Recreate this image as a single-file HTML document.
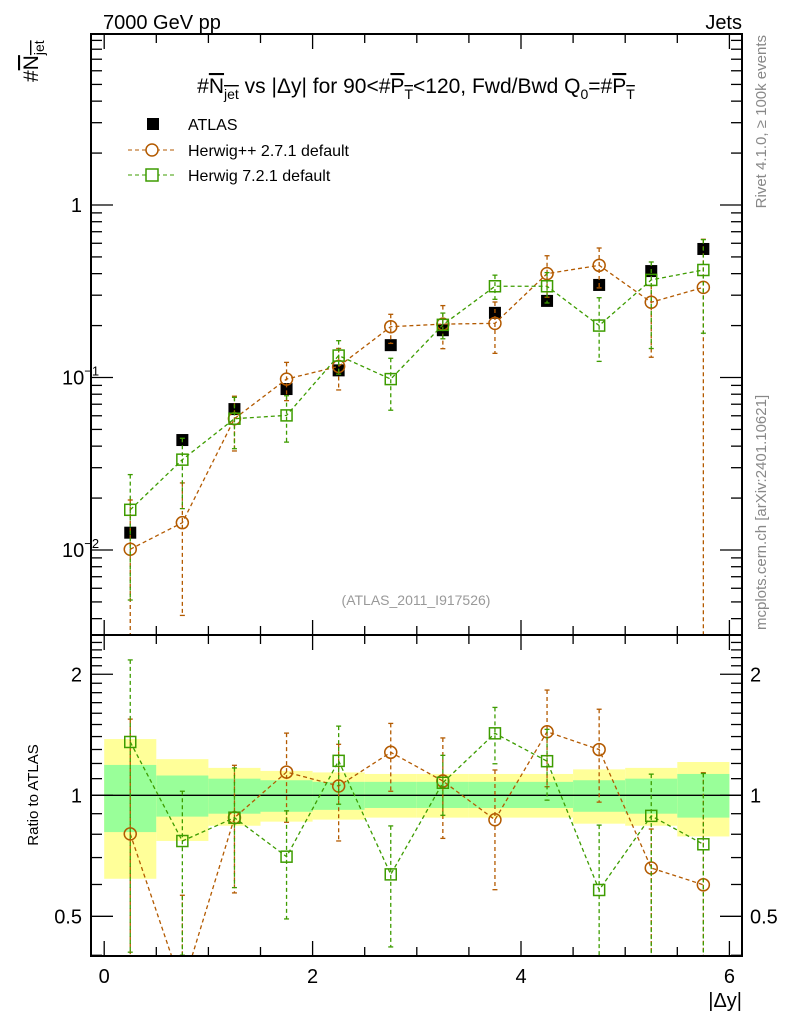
<!DOCTYPE html>
<html><head><meta charset="utf-8"><style>
html,body{margin:0;padding:0;background:#fff;overflow:hidden;width:786px;height:1024px;}
svg{display:block;font-family:"Liberation Sans",sans-serif;}
</style></head><body>
<svg id="c" width="786" height="1024" viewBox="0 0 786 1024" xmlns="http://www.w3.org/2000/svg">
<text x="103" y="29" font-size="20">7000 GeV pp</text>
<text x="742" y="29" font-size="20" text-anchor="end">Jets</text>
<text x="416" y="93" font-size="21" text-anchor="middle">#<tspan text-decoration="overline">N<tspan font-size="14" dy="6">jet</tspan></tspan><tspan dy="-6"> vs |Δy| for 90&lt;#</tspan><tspan text-decoration="overline">P<tspan font-size="14" dy="6">T</tspan></tspan><tspan dy="-6">&lt;120, Fwd/Bwd Q</tspan><tspan font-size="14" dy="6">0</tspan><tspan dy="-6">=#</tspan><tspan text-decoration="overline">P<tspan font-size="14" dy="6">T</tspan></tspan></text>
<text transform="translate(38,82) rotate(-90)" font-size="21">#<tspan text-decoration="overline">N<tspan font-size="14" dy="6">jet</tspan></tspan></text>
<text transform="translate(38,795) rotate(-90)" font-size="15" text-anchor="middle">Ratio to ATLAS</text>
<text x="742" y="1007" font-size="20" text-anchor="end">|Δy|</text>
<text transform="translate(766,35) rotate(-90)" font-size="15" fill="#888" text-anchor="end">Rivet 4.1.0, ≥ 100k events</text>
<text transform="translate(766,630) rotate(-90)" font-size="15" fill="#888">mcplots.cern.ch [arXiv:2401.10621]</text>
<text x="416" y="605" font-size="14" fill="#999" text-anchor="middle">(ATLAS_2011_I917526)</text>
<g id="legend">
<rect x="147" y="118" width="12" height="12" fill="#000"/>
<text x="188" y="130" font-size="16">ATLAS</text>
<line x1="128" y1="150" x2="174" y2="150" stroke="#b35a00" stroke-dasharray="4,3"/>
<circle cx="152" cy="150" r="6" fill="#fff" stroke="#b35a00" stroke-width="1.5"/>
<text x="188" y="156" font-size="16">Herwig++ 2.7.1 default</text>
<line x1="128" y1="175" x2="174" y2="175" stroke="#3d9c00" stroke-dasharray="4,3"/>
<rect x="146" y="169" width="12" height="12" fill="#fff" stroke="#3d9c00" stroke-width="1.5"/>
<text x="188" y="181" font-size="16">Herwig 7.2.1 default</text>
</g>
</svg>
<script>
const xCenters=[0.25,0.75,1.25,1.75,2.25,2.75,3.25,3.75,4.25,4.75,5.25,5.75];
const atlas=[0.0126,0.0434,0.0656,0.0857,0.110,0.154,0.188,0.237,0.278,0.344,0.414,0.556];
const herwigpp=[0.0101,0.0144,0.0577,0.0979,0.116,0.197,0.204,0.206,0.400,0.447,0.273,0.333];
const herwig7=[0.0171,0.0334,0.0577,0.0603,0.134,0.0979,0.202,0.338,0.338,0.200,0.368,0.420];
const hppErrUp=[0.93,0.7,0.35,0.25,0.27,0.18,0.28,0.33,0.27,0.26,0.25,0.9];
const hppErrDn=[1.0,0.71,0.35,0.25,0.27,0.2,0.28,0.33,0.27,0.26,0.52,1.0];
const h7ErrUp=[0.6,0.33,0.33,0.3,0.22,0.32,0.17,0.16,0.2,0.45,0.27,0.5];
const h7ErrDn=[0.7,0.48,0.33,0.3,0.22,0.34,0.17,0.16,0.2,0.38,0.6,0.57];
const yellowUp=[1.38,1.23,1.17,1.15,1.14,1.13,1.13,1.13,1.13,1.16,1.17,1.21];
const yellowDn=[0.62,0.77,0.84,0.86,0.87,0.88,0.88,0.88,0.88,0.85,0.84,0.79];
const greenUp=[1.19,1.12,1.10,1.09,1.08,1.08,1.08,1.08,1.08,1.09,1.10,1.13];
const greenDn=[0.81,0.885,0.90,0.91,0.92,0.93,0.93,0.93,0.93,0.91,0.90,0.88];
const xTickLabels=["0","2","4","6"];
const NS="http://www.w3.org/2000/svg";
const svg=document.getElementById('c');
const L=91,R=742,T=34,MB=635,RB=956;
const X=v=>104.2+v*104.2;
const YM=v=>205-Math.log10(v)*172.5;
const YR=v=>795.3-Math.log10(v)*402;
function mk(tag,attrs,parent){const e=document.createElementNS(NS,tag);for(const k in attrs)e.setAttribute(k,attrs[k]);(parent||svg).appendChild(e);return e;}
const gBand=mk('g',{});


xCenters.forEach((x,i)=>{
 const r1=mk('rect',{x:X(x-0.25),y:YR(yellowUp[i]),width:X(x+0.25)-X(x-0.25),height:YR(yellowDn[i])-YR(yellowUp[i]),fill:'#ffff99'},gBand);
 
 
 const r2=mk('rect',{x:X(x-0.25),y:YR(greenUp[i]),width:X(x+0.25)-X(x-0.25),height:YR(greenDn[i])-YR(greenUp[i]),fill:'#99ff99'},gBand);
 
 
});
const one=mk('line',{x1:L,x2:R,y1:YR(1),y2:YR(1),stroke:'#000','stroke-width':1.3});


const defs=mk('defs',{});
const c1=mk('clipPath',{id:'cm'},defs);mk('rect',{x:L,y:T,width:R-L,height:MB-T},c1);
const c2=mk('clipPath',{id:'cr'},defs);mk('rect',{x:L,y:MB,width:R-L,height:RB-MB},c2);
function series(vals,up,dn,col,shape,Y,clip,name,ratio){
 const g=mk('g',{'clip-path':'url(#'+clip+')'});
 
 
 const v=vals.map((d,i)=>ratio?d/atlas[i]:d);
 const pts=xCenters.map((x,i)=>X(x)+','+Y(v[i])).join(' ');
 mk('polyline',{points:pts,fill:'none',stroke:col,'stroke-width':1.3,'stroke-dasharray':'4,3'},g);
 xCenters.forEach((x,i)=>{
  const hi=v[i]*(1+up[i]), lo=Math.max(v[i]*(1-dn[i]),1e-4);
  const e=mk('line',{x1:X(x),x2:X(x),y1:Y(hi),y2:Y(lo),stroke:col,'stroke-width':1.3,'stroke-dasharray':'4,3'},g);
  
  
  mk('line',{x1:X(x)-2.5,x2:X(x)+2.5,y1:Y(hi),y2:Y(hi),stroke:col,'stroke-width':1.3},g);
  mk('line',{x1:X(x)-2.5,x2:X(x)+2.5,y1:Y(lo),y2:Y(lo),stroke:col,'stroke-width':1.3},g);
  let m;
  if(shape==='c') m=mk('circle',{cx:X(x),cy:Y(v[i]),r:6,fill:'none',stroke:col,'stroke-width':1.5},g);
  else m=mk('rect',{x:X(x)-5.5,y:Y(v[i])-5.5,width:11,height:11,fill:'none',stroke:col,'stroke-width':1.5},g);
  
  
 });
}
const ga=mk('g',{});


xCenters.forEach((x,i)=>{
 const r=mk('rect',{x:X(x)-6,y:YM(atlas[i])-6,width:12,height:12,fill:'#000'},ga);
 
 
});
series(herwigpp,hppErrUp,hppErrDn,'#b35a00','c',YM,'cm','herwigpp-series',false);
series(herwig7,h7ErrUp,h7ErrDn,'#3d9c00','s',YM,'cm','herwig7-series',false);
series(herwigpp,hppErrUp,hppErrDn,'#b35a00','c',YR,'cr','herwigpp-ratio',true);
series(herwig7,h7ErrUp,h7ErrDn,'#3d9c00','s',YR,'cr','herwig7-ratio',true);
const f1=mk('rect',{x:L,y:T,width:R-L,height:MB-T,fill:'none',stroke:'#000','stroke-width':2});


const f2=mk('rect',{x:L,y:MB,width:R-L,height:RB-MB,fill:'none',stroke:'#000','stroke-width':2});


const tk=mk('g',{stroke:'#000','stroke-width':1.3});


for(let k=0;k<=12;k++){const v=k*0.5,x=X(v),len=(k%4===0)?15:9;
 [[T,1],[MB,-1],[MB,1],[RB,-1]].forEach(([y,s])=>mk('line',{x1:x,x2:x,y1:y,y2:y+s*len},tk));}
xTickLabels.forEach((t,i)=>{const e=mk('text',{x:X(i*2),y:983,'font-size':20,'text-anchor':'middle'});e.textContent=t;
 
 });
for(let d=-3;d<=0;d++)for(let m=1;m<10;m++){const v=m*Math.pow(10,d),y=YM(v);if(y<T||y>MB)continue;
 const len=m===1?22:11;mk('line',{x1:L,x2:L+len,y1:y,y2:y},tk);mk('line',{x1:R,x2:R-len,y1:y,y2:y},tk);}
[[1,'1'],[0.1,'10'],[0.01,'10']].forEach(([v,t])=>{const e=mk('text',{x:v===1?82:62,y:YM(v)+7,'font-size':20,'text-anchor':v===1?'end':'start'});
 e.textContent=t;if(v!==1){const s=mk('tspan',{'font-size':13,dy:-9},e);s.textContent=v===0.1?'−1':'−2';}
 
 });
[0.4,0.5,0.6,0.7,0.8,0.9,1,1.1,1.2,1.3,1.4,1.5,1.6,1.7,1.8,1.9,2,2.1,2.2,2.3,2.4].forEach(v=>{const y=YR(v);if(y<MB||y>RB)return;
 const len=(v===0.5||v===1||v===2)?22:11;mk('line',{x1:L,x2:L+len,y1:y,y2:y},tk);mk('line',{x1:R,x2:R-len,y1:y,y2:y},tk);});
[[0.5,'0.5'],[1,'1'],[2,'2']].forEach(([v,t])=>{
 const a=mk('text',{x:82,y:YR(v)+7,'font-size':20,'text-anchor':'end'});a.textContent=t;
 
 
 const b=mk('text',{x:750,y:YR(v)+7,'font-size':20});b.textContent=t;
 
 });
</script>
</body></html>
